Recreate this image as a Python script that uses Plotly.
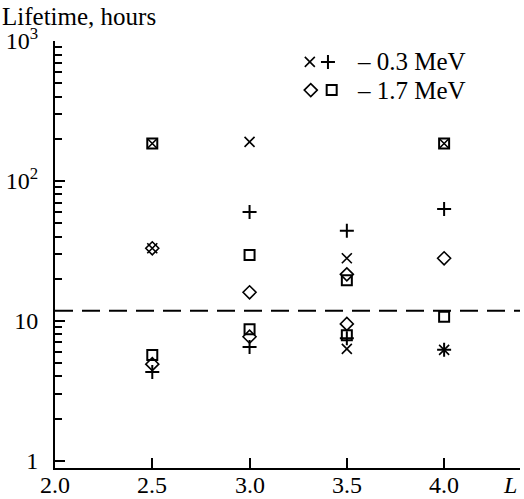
import plotly.graph_objects as go

# ---- data ----
x_03_L = [2.5, 2.5, 3.0, 3.5, 3.5, 4.0, 4.0]
x_03_val = [185, 33, 190, 28, 6.3, 185, 6.2]          # "×" 0.3 MeV

plus_03_L = [2.5, 3.0, 3.0, 3.5, 3.5, 4.0, 4.0]
plus_03_val = [4.3, 60, 6.5, 44, 7.5, 63, 6.2]        # "+" 0.3 MeV

dia_17_L = [2.5, 2.5, 3.0, 3.0, 3.5, 3.5, 4.0]
dia_17_val = [33, 4.9, 16, 7.7, 21.5, 9.5, 28]        # "◇" 1.7 MeV

sq_17_L = [2.5, 2.5, 3.0, 3.0, 3.5, 3.5, 4.0, 4.0]
sq_17_val = [185, 5.7, 29.5, 8.7, 19.5, 7.9, 185, 10.7]  # "□" 1.7 MeV

threshold = 11.8

x_tickvals = [2.0, 2.5, 3.0, 3.5, 4.0]
x_ticktext = ["2.0", "2.5", "3.0", "3.5", "4.0"]
y_tickvals = [1, 10, 100, 1000]
y_ticktext = ["1", "10", "10<sup>2</sup>", "10<sup>3</sup>"]
y_minor = [m * 10 ** e for e in range(3) for m in range(2, 10)]

FONT = "Liberation Serif"
FS = 25
LW = 2

fig = go.Figure()

def add(L, v, sym, size=10, lw=LW):
    fig.add_trace(go.Scatter(
        x=L, y=v, mode="markers", showlegend=False, hoverinfo="skip",
        marker=dict(symbol=sym, size=size, color="black",
                    line=dict(color="black", width=lw)),
    ))

add(sq_17_L, sq_17_val, "square-open", 10, 2)
add(dia_17_L, dia_17_val, "diamond-open", 10, 1.6)
add(x_03_L, x_03_val, "x-thin-open", 10, 1.6)
add(plus_03_L, plus_03_val, "cross-thin-open", 10, 2)

fig.add_hline(y=threshold, line=dict(color="black", width=2, dash="18px,9px"))

# legend glyphs on an invisible overlay axis
leg = [
    (0.548, 0.951, "x-thin-open", 1.6),
    (0.587, 0.951, "cross-thin-open", 2),
    (0.550, 0.885, "diamond-open", 1.6),
    (0.595, 0.885, "square-open", 2),
]
for lx, ly, sym, lw in leg:
    fig.add_trace(go.Scatter(
        x=[lx], y=[ly], xaxis="x2", yaxis="y2", mode="markers", showlegend=False,
        hoverinfo="skip",
        marker=dict(symbol=sym, size=10, color="black", line=dict(color="black", width=lw)),
    ))

fig.add_annotation(xref="paper", yref="paper", x=0.645, y=0.951, text="– 0.3 MeV",
                   showarrow=False, xanchor="left", yanchor="middle",
                   font=dict(family=FONT, size=FS, color="black"))
fig.add_annotation(xref="paper", yref="paper", x=0.645, y=0.885, text="– 1.7 MeV",
                   showarrow=False, xanchor="left", yanchor="middle",
                   font=dict(family=FONT, size=FS, color="black"))

fig.add_annotation(xref="paper", yref="paper", x=-0.118, y=1.0, yshift=25,
                   text="Lifetime, hours", showarrow=False,
                   xanchor="left", yanchor="middle",
                   font=dict(family=FONT, size=FS, color="black"))

# x tick labels and axis name as annotations beneath the axis
for v, t in zip(x_tickvals, x_ticktext):
    fig.add_annotation(xref="x", yref="paper", x=v, y=0, yshift=-17,
                       text=t, showarrow=False, xanchor="center", yanchor="middle",
                       font=dict(family=FONT, size=24, color="black"))
fig.add_annotation(xref="paper", yref="paper", x=0.978, y=0, yshift=-17,
                   text="<i>L</i>", showarrow=False,
                   xanchor="center", yanchor="middle",
                   font=dict(family=FONT, size=24, color="black"))

fig.update_layout(
    width=524, height=499,
    margin=dict(l=55, r=4, t=41, b=31, pad=0),
    plot_bgcolor="white", paper_bgcolor="white",
    font=dict(family=FONT, size=FS, color="black"),
    hovermode=False,
    xaxis=dict(range=[2.0, 4.39], tickvals=x_tickvals, showticklabels=False,
               ticks="inside", ticklen=10, tickwidth=2, tickcolor="black",
               showline=True, linecolor="black", linewidth=2,
               showgrid=False, zeroline=False, automargin=False),
    yaxis=dict(type="log", range=[-0.052, 3.0], tickvals=y_tickvals, ticktext=y_ticktext,
               ticks="inside", ticklen=10, tickwidth=2, tickcolor="black",
               showline=True, linecolor="black", linewidth=2,
               showgrid=False, zeroline=False, ticklabelstandoff=10, automargin=False,
               tickfont=dict(family=FONT, size=24, color="black"),
               minor=dict(tickvals=y_minor, ticks="inside", ticklen=7,
                          tickwidth=2, tickcolor="black", showgrid=False)),
    xaxis2=dict(overlaying="x", range=[0, 1], visible=False),
    yaxis2=dict(overlaying="y", range=[0, 1], visible=False),
)

fig.write_html("out.html", config={"displayModeBar": False},
               post_script="document.body.style.margin='0';")
